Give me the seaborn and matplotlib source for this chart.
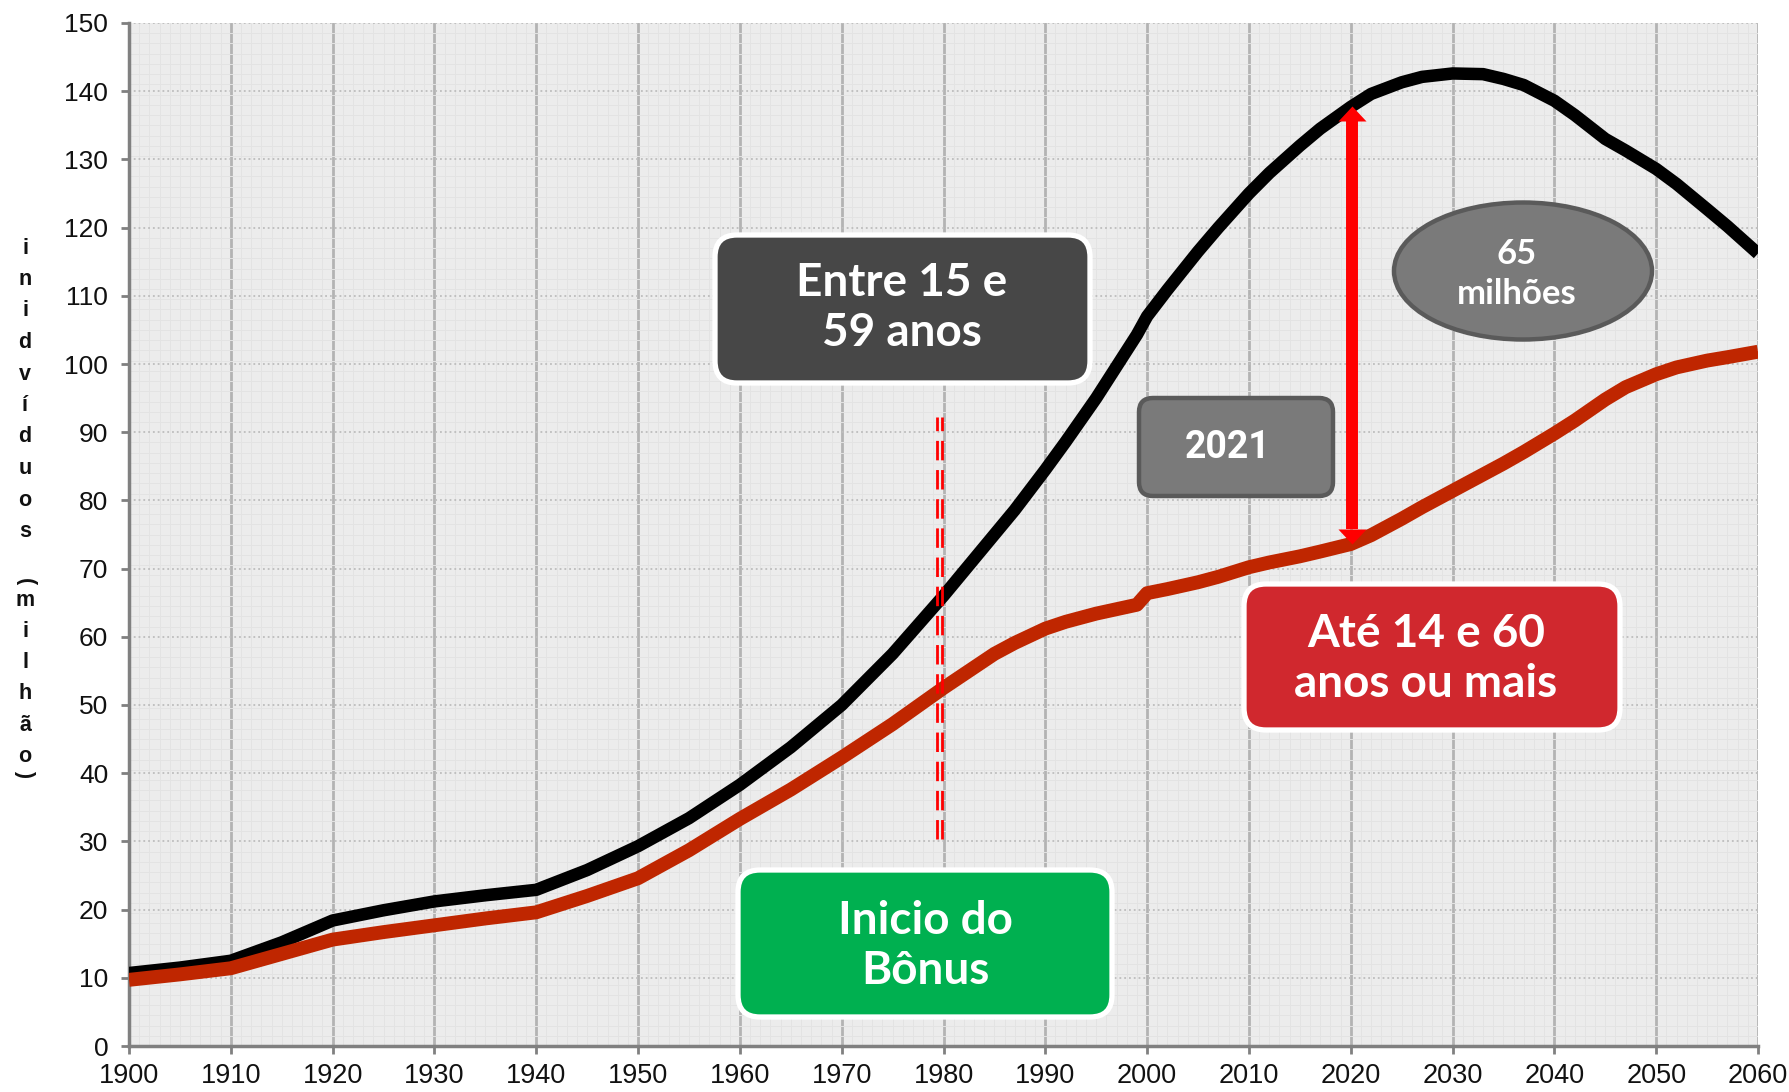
import numpy as np
import pandas as pd
import matplotlib
matplotlib.use("Agg")
import matplotlib.pyplot as plt
import matplotlib.path as mpath
import matplotlib.transforms as mtransforms
from matplotlib.patches import FancyBboxPatch, Ellipse
import seaborn as sns

# ---------------- data ----------------
years = [1900, 1905, 1910, 1915, 1920, 1925, 1930, 1935, 1940, 1945, 1950, 1955, 1960,
         1965, 1970, 1975, 1980, 1985, 1987, 1990, 1992, 1995, 1999, 2000, 2002, 2005,
         2007, 2010, 2012, 2015, 2017, 2020, 2022, 2025, 2027, 2030, 2033, 2035, 2037,
         2040, 2042, 2045, 2047, 2050, 2052, 2055, 2057, 2060]
idade_ativa = [10.7, 11.5, 12.5, 15.2, 18.4, 19.9, 21.2, 22.1, 22.9, 25.8, 29.3, 33.4, 38.3,
               43.8, 50.0, 57.5, 66.0, 75.0, 78.6, 84.5, 88.6, 95.0, 104.3, 107.0, 110.9, 116.5,
               120.0, 125.0, 128.0, 132.0, 134.5, 137.7, 139.6, 141.3, 142.1, 142.6, 142.5, 141.8,
               140.9, 138.6, 136.5, 133.0, 131.3, 128.6, 126.4, 122.7, 120.2, 116.2]
dependentes = [9.7, 10.5, 11.4, 13.5, 15.6, 16.7, 17.7, 18.7, 19.6, 22.0, 24.6, 28.7, 33.3,
               37.6, 42.3, 47.2, 52.5, 57.5, 59.1, 61.2, 62.2, 63.4, 64.7, 66.4, 67.0, 68.0,
               68.8, 70.2, 70.9, 71.8, 72.5, 73.6, 74.9, 77.3, 79.0, 81.4, 83.8, 85.4, 87.1,
               89.8, 91.7, 94.8, 96.6, 98.5, 99.5, 100.5, 101.0, 101.8]
x_ticks = list(range(1900, 2061, 10))
y_ticks = list(range(0, 151, 10))
ylabel_text = "inidvíduos (milhão)"
ano_bonus = 1980
ano_2021 = 2020.1
txt_entre = "Entre 15 e\n59 anos"
txt_ate = "Até 14 e 60\nanos ou mais"
txt_inicio = "Inicio do\nBônus"
txt_2021 = "2021"
txt_65 = "65\nmilhões"

df = pd.DataFrame({
    "ano": years * 2,
    "valor": idade_ativa + dependentes,
    "grupo": ["15-59"] * len(years) + ["0-14 e 60+"] * len(years),
})

# ---------------- style ----------------
sns.set_theme(style="white")
plt.rcParams["font.family"] = ["Liberation Sans", "DejaVu Sans"]

W, H = 1789, 1092
fig = plt.figure(figsize=(W / 100, H / 100), dpi=100)
ax = fig.add_axes([129 / W, 46 / H, (1758 - 129) / W, (1069 - 46) / H])
ax.set_facecolor("#ECECEC")

sns.lineplot(data=df[df.grupo == "15-59"], x="ano", y="valor", color="#000000",
             lw=9, ax=ax, legend=False, sort=False, zorder=4,
             solid_capstyle="butt", solid_joinstyle="round")
sns.lineplot(data=df[df.grupo == "0-14 e 60+"], x="ano", y="valor", color="#BF2600",
             lw=10, ax=ax, legend=False, sort=False, zorder=5,
             solid_capstyle="butt", solid_joinstyle="round")

ax.set_xlim(1900, 2060)
ax.set_ylim(0, 150)
ax.set_xticks(x_ticks)
ax.set_yticks(y_ticks)
ax.set_xticklabels([str(t) for t in x_ticks], fontsize=19.5, color="#111111")
ax.set_yticklabels([str(t) for t in y_ticks], fontsize=19, color="#111111")
ax.set_xticks(np.arange(1900, 2061, 1), minor=True)
ax.set_yticks(np.arange(0, 151, 1.5), minor=True)
ax.set_xlabel("")
ax.set_ylabel("")

ax.grid(which="minor", color="#E3E3E3", lw=0.7, zorder=0)
ax.grid(which="major", axis="x", color="#B3B3B3", lw=2, zorder=1)
ax.grid(which="major", axis="y", color="#BDBDBD", lw=1.3, ls=":", zorder=1)
ax.set_axisbelow(True)

for s in ["top", "right"]:
    ax.spines[s].set_visible(False)
for s in ["left", "bottom"]:
    ax.spines[s].set_color("#808080")
    ax.spines[s].set_linewidth(2.5)
ax.tick_params(which="major", direction="out", length=6, width=2, color="#808080")
ax.tick_params(axis="x", which="major", pad=6, bottom=True)
ax.tick_params(axis="y", which="major", pad=9, left=True)
ax.tick_params(which="minor", length=0)

# ---------------- dashed double line at 1980 ----------------
for dx in (-0.5, 0.0):
    ax.plot([ano_bonus - 0.15 + dx, ano_bonus - 0.15 + dx], [30.4, 92.3], color="#FF0000",
            lw=2.0, dashes=(7, 3.5), zorder=6, solid_capstyle="butt")

# ---------------- red double arrow ----------------
top = np.interp(ano_2021, years, idade_ativa)
bot = np.interp(ano_2021, years, dependentes)
px_per_unit = (1046 - 23) / 150.0
head = 15 / px_per_unit
ax.plot([ano_2021, ano_2021], [bot + head, top - head], color="#FF0000", lw=8.6,
        solid_capstyle="butt", zorder=7)
up = mpath.Path([(-1, 0), (1, 0), (0, 1.07), (-1, 0)])
down = mpath.Path([(-1, 0), (1, 0), (0, -1.07), (-1, 0)])
ax.plot([ano_2021], [top - head], marker=up, ms=21.6, color="#FF0000", mew=0, zorder=7)
ax.plot([ano_2021], [bot + head], marker=down, ms=21.6, color="#FF0000", mew=0, zorder=7)

# ---------------- annotation boxes (pixel positions) ----------------
ident = mtransforms.IdentityTransform()
BOXFONT = ["Lato", "DejaVu Sans"]


def box(x0, ytop, x1, ybot, fc, ec, lw, r):
    p = FancyBboxPatch((x0, H - ybot), x1 - x0, ybot - ytop,
                       boxstyle=f"round,pad=0,rounding_size={r}",
                       fc=fc, ec=ec, lw=lw, transform=ident, zorder=8, clip_on=False)
    fig.patches.append(p)


def label(x, y, s, size, family=BOXFONT, ls=1.25):
    fig.text(x, H - y, s, transform=ident, ha="center", va="center", color="white",
             fontsize=size, fontweight="bold", family=family, linespacing=ls, zorder=9)


box(715, 235, 1090, 383, "#474747", "white", 3.8, 22)
label(902, 308, txt_entre, 33, ls=1.25)

box(1139, 398, 1333, 496, "#7A7A7A", "#5A5A5A", 3.2, 14)
label(1228, 448, txt_2021, 27, family=["Roboto", "DejaVu Sans"])

ell = Ellipse((1523, H - 271), 258, 137, fc="#7A7A7A", ec="#5A5A5A", lw=3.2,
              transform=ident, zorder=8)
fig.patches.append(ell)
label(1517, 274, txt_65, 25, ls=1.3)

box(1244, 584, 1620, 730, "#D0282E", "white", 3.8, 22)
label(1426, 659, txt_ate, 33, ls=1.25)

box(738, 870, 1112, 1017, "#00B050", "white", 3.8, 22)
label(925, 946, txt_inicio, 33, ls=1.25)

# ---------------- stacked y-axis label ----------------
ys = [248 + k * 31.5 for k in range(10)] + [582] + [600 + k * 31.3 for k in range(6)] + [774]
chars = [c for c in ylabel_text if c != " "]
for c, yy in zip(chars, ys):
    rot = -90 if c in "()" else 0
    fig.text(25, H - yy, c, transform=ident, ha="center", va="center",
             fontsize=15.5, fontweight="bold", color="#111111", rotation=rot)

fig.savefig("out.png", dpi=100)
